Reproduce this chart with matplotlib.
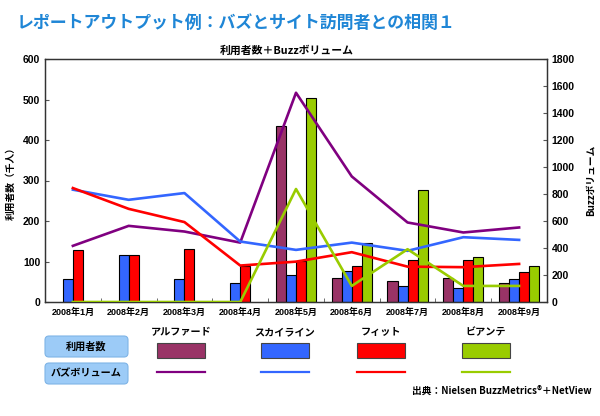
import numpy as np
import matplotlib
matplotlib.use("Agg")
import matplotlib.pyplot as plt
from matplotlib.patches import FancyBboxPatch, Rectangle

plt.rcParams['font.family'] = ['Noto Sans CJK JP', 'DejaVu Sans']
plt.rcParams['font.weight'] = 'bold'
num_font = ['Liberation Sans', 'Noto Sans CJK JP']

months = ["2008年1月", "2008年2月", "2008年3月", "2008年4月", "2008年5月",
          "2008年6月", "2008年7月", "2008年8月", "2008年9月"]
cars = ["アルファード", "スカイライン", "フィット", "ビアンテ"]

# 利用者数（千人）
users_alphard = [0, 0, 0, 0, 434, 60, 51, 60, 46]
users_skyline = [58, 116, 57, 46, 67, 77, 40, 35, 56]
users_fit = [128, 116, 131, 90, 101, 90, 104, 104, 74]
users_biante = [0, 0, 0, 0, 504, 145, 277, 110, 89]

# Buzzボリューム
buzz_alphard = [416, 564, 522, 440, 1550, 930, 589, 515, 552]
buzz_skyline = [832, 757, 807, 448, 386, 440, 379, 480, 460]
buzz_fit = [844, 690, 592, 270, 299, 369, 262, 258, 282]
buzz_biante = [0, 0, 0, 0, 837, 119, 391, 119, 119]

bar_colors = ["#993366", "#3366FF", "#FF0000", "#99CC00"]
line_colors = ["#800080", "#3366FF", "#FF0000", "#99CC00"]

users = [users_alphard, users_skyline, users_fit, users_biante]
buzz = [buzz_alphard, buzz_skyline, buzz_fit, buzz_biante]

fig = plt.figure(figsize=(6.0, 4.16), dpi=100)
W, H = 600, 416
ax = fig.add_axes([45 / W, 1 - 302 / H, (547 - 45) / W, (302 - 59) / H])
ax2 = ax.twinx()

x = np.arange(len(months))
w = 0.18
for i, vals in enumerate(users):
    v = np.array(vals, dtype=float)
    v[v == 0] = np.nan  # empty months have no bar
    ax.bar(x + (i - 1.5) * w, v, width=w, color=bar_colors[i],
           edgecolor="black", linewidth=0.8, zorder=2)

for i, vals in enumerate(buzz):
    ax2.plot(x, vals, color=line_colors[i], linewidth=1.9, zorder=3)

ax.set_xlim(-0.5, len(months) - 0.5)
ax.set_ylim(0, 600)
ax.set_yticks(np.arange(0, 601, 100))
ax2.set_ylim(0, 1800)
ax2.set_yticks(np.arange(0, 1801, 200))

ax.set_xticks(x)
ax.set_xticklabels(months, fontsize=6.5, fontweight='bold', family=num_font)
ax.set_xticks(np.arange(-0.5, len(months), 1), minor=True)
ax.tick_params(axis='x', which='major', length=0, pad=4)
ax.tick_params(axis='x', which='minor', direction='in', length=3, color='#555555')
ax.tick_params(axis='y', direction='in', length=3, labelsize=7.5, color='#555555')
ax2.tick_params(axis='y', direction='in', length=3, labelsize=7.5, color='#555555')
for lab in ax.get_yticklabels() + ax2.get_yticklabels():
    lab.set_fontweight('bold')
    lab.set_family(num_font)

for a in (ax, ax2):
    for s in a.spines.values():
        s.set_color('#333333')
        s.set_linewidth(0.9)

ax.set_ylabel("利用者数（千人）", fontsize=7, fontweight='bold', labelpad=5)
ax2.set_ylabel("Buzzボリューム", fontsize=7, fontweight='bold', rotation=90, labelpad=8)

fig.text(17 / W, 1 - 23 / H, "レポートアウトプット例：バズとサイト訪問者との相関１",
         fontsize=12.2, fontweight='bold', color='#1f86d6', ha='left', va='center')
fig.text(287 / W, 1 - 51 / H, "利用者数＋Buzzボリューム", fontsize=7.8,
         fontweight='bold', ha='center', va='center')

# legend table drawn in pixel coordinates
lg = fig.add_axes([0, 0, 1, 1], zorder=5)
lg.set_xlim(0, W)
lg.set_ylim(H, 0)
lg.axis('off')

for y0, label in [(336, "利用者数"), (363, "バズボリューム")]:
    box = FancyBboxPatch((45, y0), 83, 21, boxstyle="round,pad=0,rounding_size=4",
                         facecolor="#9ccbf7", edgecolor="#7fb4e6", linewidth=0.8)
    lg.add_patch(box)
    lg.text(86.5, y0 + 10.5, label, fontsize=7.3, fontweight='bold',
            ha='center', va='center')

col_x = [157, 261, 357, 462]
sw = 48
for i, name in enumerate(cars):
    cx = col_x[i] + sw / 2
    lg.text(cx, 332, name, fontsize=7.3, fontweight='bold', ha='center', va='center')
    lg.add_patch(Rectangle((col_x[i], 343), sw, 15, facecolor=bar_colors[i],
                           edgecolor='#444444', linewidth=0.8))
    lg.plot([col_x[i], col_x[i] + sw], [372, 372], color=line_colors[i], linewidth=1.6)

lg.text(592, 391, "出典：Nielsen BuzzMetrics®＋NetView", fontsize=7,
        fontweight='bold', ha='right', va='center', family=num_font[::-1])

fig.savefig("out.png", dpi=100)
